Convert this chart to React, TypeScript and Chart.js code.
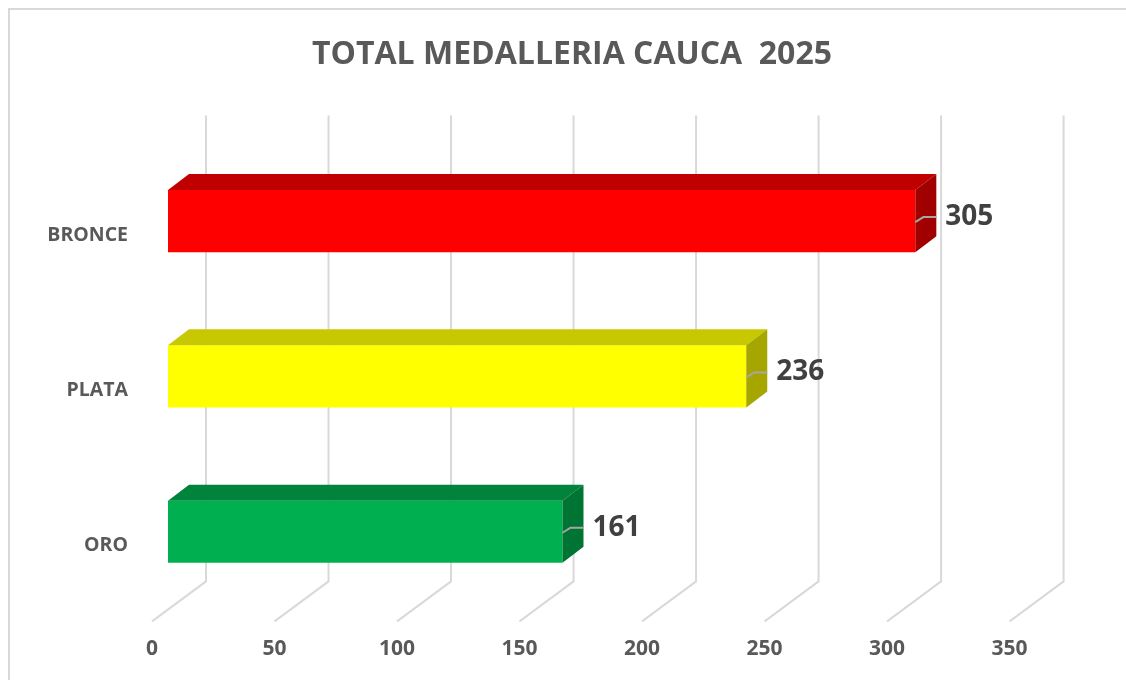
import React, { useEffect, useRef } from "react";
import { Chart, registerables } from "chart.js";

Chart.register(...registerables);

const TITLE = "TOTAL MEDALLERIA CAUCA  2025";
const categories = ["BRONCE", "PLATA", "ORO"];
const medalValues = [305, 236, 161];
const xTicks = [0, 50, 100, 150, 200, 250, 300, 350];
const X_MAX = 382;
const frontColors = ["#FF0000", "#FFFF00", "#00B050"];
const topColors = ["#C00000", "#C8C800", "#00843C"];
const sideColors = ["#A00000", "#A6A600", "#007433"];

const FONT = '"Open Sans", "Liberation Sans", sans-serif';
const BAR_DX = 21;
const BAR_DY = 16;
const BACK_OFF = 38;
const FLOOR_OFF = -16;

const threeD = {
  id: "threeD",
  beforeDraw(chart: any) {
    const ctx = chart.ctx;
    ctx.save();
    ctx.strokeStyle = "#d9d9d9";
    ctx.lineWidth = 2;
    ctx.strokeRect(9, 9, 1400, 1400);
    ctx.restore();
  },
  beforeDatasetsDraw(chart: any) {
    const ctx = chart.ctx;
    const xs = chart.scales.x;
    const area = chart.chartArea;
    const top = area.top - 28;
    const backBottom = area.bottom - 28;
    const frontBottom = area.bottom + 12;
    ctx.save();
    ctx.strokeStyle = "#d9d9d9";
    ctx.lineWidth = 2;
    xTicks.forEach((v) => {
      const px = xs.getPixelForValue(v);
      const bx = px + BACK_OFF;
      const fx = px + FLOOR_OFF;
      ctx.beginPath();
      ctx.moveTo(bx, top);
      ctx.lineTo(bx, backBottom);
      ctx.lineTo(fx, frontBottom);
      ctx.stroke();
    });
    ctx.restore();
  },
  afterDatasetsDraw(chart: any) {
    const ctx = chart.ctx;
    const meta = chart.getDatasetMeta(0);
    ctx.save();
    meta.data.forEach((bar: any, i: number) => {
      const p = bar.getProps(["x", "y", "base", "height"], true);
      const x0 = p.base;
      const x1 = p.x;
      const yT = p.y - p.height / 2;
      const yB = p.y + p.height / 2;
      ctx.fillStyle = topColors[i];
      ctx.beginPath();
      ctx.moveTo(x0, yT);
      ctx.lineTo(x0 + BAR_DX, yT - BAR_DY);
      ctx.lineTo(x1 + BAR_DX, yT - BAR_DY);
      ctx.lineTo(x1, yT);
      ctx.closePath();
      ctx.fill();
      ctx.fillStyle = sideColors[i];
      ctx.beginPath();
      ctx.moveTo(x1, yT);
      ctx.lineTo(x1 + BAR_DX, yT - BAR_DY);
      ctx.lineTo(x1 + BAR_DX, yB - BAR_DY);
      ctx.lineTo(x1, yB);
      ctx.closePath();
      ctx.fill();
      const ly = p.y - 4;
      ctx.strokeStyle = "#a6a6a6";
      ctx.lineWidth = 2;
      ctx.beginPath();
      ctx.moveTo(x1, p.y + 1);
      ctx.lineTo(x1 + 8, ly);
      ctx.lineTo(x1 + BAR_DX, ly);
      ctx.stroke();
      ctx.fillStyle = "#404040";
      ctx.font = `bold 28px ${FONT}`;
      ctx.textAlign = "left";
      ctx.textBaseline = "middle";
      ctx.fillText(String(medalValues[i]), x1 + BAR_DX + 9, ly);
    });
    ctx.restore();
  },
};

export default function App() {
  const ref = useRef<HTMLCanvasElement | null>(null);
  useEffect(() => {
    let chart: any = null;
    let cancelled = false;
    const make = () => {
      if (cancelled || !ref.current) return;
      chart = new Chart(ref.current, {
        type: "bar",
        data: {
          labels: categories,
          datasets: [
            {
              data: medalValues,
              backgroundColor: frontColors,
              borderWidth: 0,
              categoryPercentage: 1,
              barPercentage: 0.4,
            },
          ],
        },
        options: {
          indexAxis: "y",
          animation: false,
          responsive: false,
          layout: { padding: { left: 40, right: 22, top: 0, bottom: 0 } },
          plugins: {
            legend: { display: false },
            tooltip: { enabled: false },
            title: {
              display: true,
              text: TITLE,
              color: "#595959",
              font: { family: FONT, size: 32, weight: "bold", lineHeight: 1.2 },
              padding: { top: 36, bottom: 69 },
            },
          },
          scales: {
            x: {
              min: 0,
              max: X_MAX,
              ticks: {
                stepSize: 50,
                includeBounds: false,
                color: "#595959",
                font: { family: FONT, size: 21, weight: "bold" },
                labelOffset: -16,
                padding: 27,
              },
              grid: { display: false, drawTicks: false },
              border: { display: false },
              afterFit: (s: any) => {
                s.height = 70.6;
              },
            },
            y: {
              ticks: {
                color: "#595959",
                font: { family: FONT, size: 19.5, weight: "bold" },
                padding: 40,
                labelOffset: 14,
              },
              grid: { display: false, drawTicks: false },
              border: { display: false },
              afterFit: (s: any) => {
                s.width = 128;
              },
            },
          },
        },
        plugins: [threeD],
      });
    };
    const fontsApi: any = (document as any).fonts;
    if (fontsApi && fontsApi.load) {
      Promise.all([
        fontsApi.load(`bold 20px "Open Sans"`),
        fontsApi.load(`bold 32px "Open Sans"`),
      ])
        .catch(() => null)
        .then(make);
    } else {
      make();
    }
    return () => {
      cancelled = true;
      if (chart) chart.destroy();
    };
  }, []);
  return (
    <div style={{ position: "fixed", left: 0, top: 0, width: 1126, height: 680, background: "#fff" }}>
      <canvas ref={ref} width={1126} height={680} style={{ display: "block", width: 1126, height: 680 }} />
    </div>
  );
}
